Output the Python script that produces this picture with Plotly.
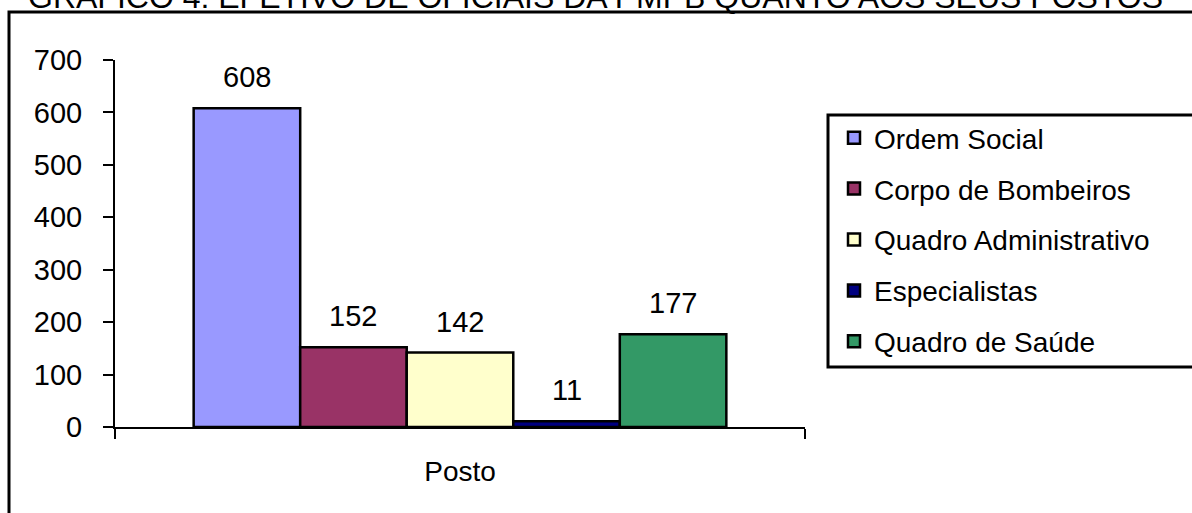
import plotly.graph_objects as go

# Officer headcount by corps
categoria = ["Posto"]
quadros = ["Ordem Social", "Corpo de Bombeiros", "Quadro Administrativo",
           "Especialistas", "Quadro de Saúde"]
efetivo = [608, 152, 142, 11, 177]
cores = ["#9999FF", "#993366", "#FFFFCC", "#000080", "#339966"]
y_ticks = [0, 100, 200, 300, 400, 500, 600, 700]
titulo = "GRÁFICO 4: EFETIVO DE OFICIAIS DA PMPB QUANTO AOS SEUS POSTOS"

W, H = 1192, 513
L, R, T, B = 115, 387, 60, 86
PW, PH = W - L - R, H - T - B
BARGAP = 0.228
FONT = "Liberation Sans, Arial, sans-serif"


def px_x(p):
    return (p - L) / PW


def px_y(p):
    return (H - B - p) / PH


fig = go.Figure()
for i, (nome, val, cor) in enumerate(zip(quadros, efetivo, cores)):
    fig.add_trace(go.Bar(
        x=categoria, y=[val], name=nome, legendgroup=nome,
        marker=dict(color=cor, line=dict(color="black", width=2.5)),
    ))

# value labels above each bar (grouped-bar centres inside the single category)
n = len(quadros)
grp = 1 - BARGAP
for i, val in enumerate(efetivo):
    xc = -0.5 + BARGAP / 2 + grp * (i + 0.5) / n
    fig.add_annotation(x=xc, y=val, xref="x", yref="y", text=str(val),
                       showarrow=False, yanchor="bottom", yshift=13,
                       font=dict(size=29, color="black", family=FONT))

# title (partly above the page edge)
fig.add_annotation(x=px_x(595), y=px_y(-3), xref="paper", yref="paper",
                   text=titulo, showarrow=False, xanchor="center", yanchor="middle",
                   font=dict(size=32, color="black", family=FONT))

# outer chart frame and legend frame
fig.add_shape(type="rect", xref="paper", yref="paper",
              x0=px_x(9), x1=px_x(1215), y0=px_y(540), y1=px_y(12),
              line=dict(color="black", width=3), fillcolor="rgba(0,0,0,0)")
fig.add_shape(type="rect", xref="paper", yref="paper",
              x0=px_x(828), x1=px_x(1215), y0=px_y(367), y1=px_y(115),
              line=dict(color="black", width=3), fillcolor="rgba(0,0,0,0)")

fig.update_layout(
    width=W, height=H,
    margin=dict(l=L, r=R, t=T, b=B, pad=0),
    paper_bgcolor="white", plot_bgcolor="white",
    barmode="group", bargap=BARGAP, bargroupgap=0,
    font=dict(family=FONT, size=28, color="black"),
    showlegend=True,
    legend=dict(x=px_x(834), y=px_y(113), xanchor="left", yanchor="top",
                traceorder="grouped", tracegroupgap=11.5,
                bgcolor="rgba(0,0,0,0)", borderwidth=0,
                font=dict(size=28, family=FONT, color="black")),
    xaxis=dict(showline=True, linecolor="black", linewidth=2,
               ticks="outside", tickson="boundaries", ticklen=10,
               tickwidth=2, tickcolor="black", showgrid=False,
               ticklabelstandoff=18, range=[-0.5, 0.5],
               tickfont=dict(size=28)),
    yaxis=dict(range=[0, 700], tickvals=y_ticks, showline=True,
               linecolor="black", linewidth=2, ticks="outside", ticklen=10,
               tickwidth=2, tickcolor="black", showgrid=False, zeroline=False,
               ticklabelstandoff=15, tickfont=dict(size=29)),
)

fig.write_html("out.html")
